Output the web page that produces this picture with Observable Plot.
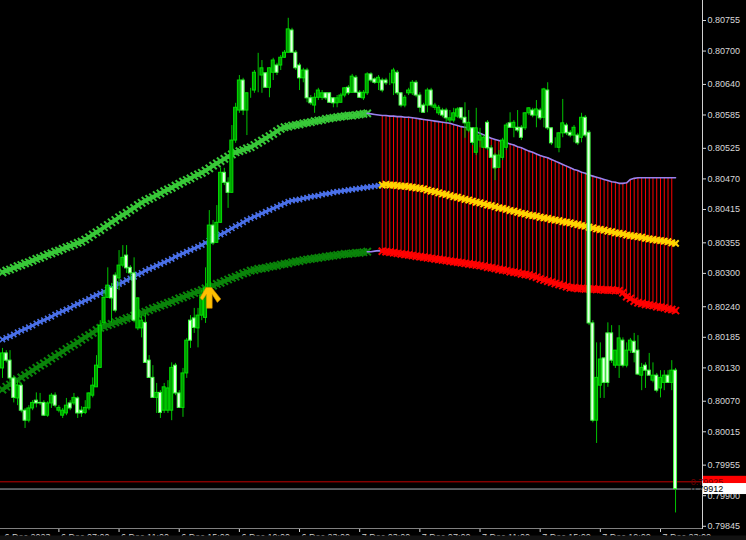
<!DOCTYPE html>
<html><head><meta charset="utf-8">
<script src="https://cdn.jsdelivr.net/npm/d3@7"></script>
<script src="https://cdn.jsdelivr.net/npm/@observablehq/plot@0.6"></script>
<style>
html,body{margin:0;padding:0;background:#000;overflow:hidden}
#chart{width:746px;height:540px}
</style></head><body><div id="chart"></div>
<script>
// Prices in points (x 1e-5)
const open = [80129,80156,80143,80111,80075,80098,80053,80035,80057,80071,80067,80067,80044,80066,80080,80053,80044,80048,80066,80066,80075,80053,80049,80057,80080,80095,80130,80210,80256,80274,80296,80291,80314,80332,80310,80300,80201,80201,80211,80143,80112,80076,80085,80053,80053,80053,80134,80084,80058,80120,80215,80219,80201,80224,80220,80273,80386,80355,80391,80481,80463,80445,80539,80593,80647,80593,80625,80629,80661,80656,80660,80634,80661,80674,80674,80688,80697,80737,80697,80674,80651,80665,80615,80602,80616,80616,80624,80624,80615,80606,80607,80620,80634,80625,80652,80625,80615,80624,80658,80649,80643,80647,80647,80642,80642,80661,80624,80602,80624,80624,80643,80620,80602,80602,80629,80598,80588,80593,80593,80575,80575,80582,80597,80580,80557,80561,80517,80539,80526,80571,80525,80512,80490,80508,80526,80570,80562,80562,80562,80561,80588,80593,80584,80593,80580,80629,80561,80528,80526,80552,80566,80553,80548,80548,80544,80580,80553,80210,80035,80098,80147,80192,80192,80134,80134,80179,80134,80161,80177,80161,80116,80134,80125,80107,80116,80093,80103,80116,80103,80125];
const high = [80165,80161,80161,80116,80107,80102,80057,80062,80071,80085,80084,80071,80069,80084,80085,80062,80057,80075,80071,80084,80078,80060,80071,80085,80112,80152,80215,80269,80310,80282,80301,80341,80350,80350,80314,80328,80256,80224,80228,80152,80134,80102,80089,80102,80107,80139,80138,80089,80129,80183,80224,80237,80237,80269,80310,80413,80395,80422,80490,80489,80472,80566,80606,80656,80651,80625,80633,80665,80696,80683,80661,80670,80687,80678,80692,80701,80759,80741,80701,80678,80669,80669,80620,80624,80633,80629,80625,80625,80616,80620,80624,80634,80638,80658,80656,80629,80629,80661,80661,80652,80656,80651,80651,80660,80669,80665,80625,80620,80633,80647,80647,80625,80606,80633,80633,80606,80602,80597,80597,80593,80597,80598,80598,80607,80593,80562,80597,80561,80548,80575,80530,80516,80521,80543,80570,80589,80575,80593,80566,80589,80598,80597,80611,80597,80633,80643,80562,80544,80553,80613,80570,80557,80566,80552,80588,80584,80557,80215,80175,80175,80148,80211,80206,80161,80206,80184,80175,80183,80192,80188,80138,80139,80156,80139,80120,80125,80125,80125,80143,80129];
const low = [80111,80139,80103,80067,80062,80049,80021,80031,80053,80058,80062,80043,80041,80057,80058,80049,80039,80044,80053,80062,80039,80041,80046,80053,80076,80095,80129,80206,80255,80211,80229,80269,80310,80300,80287,80211,80197,80184,80139,80111,80076,80048,80039,80048,80048,80035,80080,80057,80041,80111,80165,80192,80166,80215,80210,80269,80350,80354,80390,80458,80417,80444,80534,80588,80584,80548,80615,80624,80625,80624,80633,80616,80647,80656,80665,80687,80696,80696,80665,80629,80643,80607,80602,80588,80611,80611,80611,80606,80598,80598,80606,80616,80620,80624,80624,80615,80611,80620,80643,80640,80629,80625,80638,80638,80620,80620,80598,80598,80620,80620,80616,80589,80588,80589,80598,80593,80584,80580,80571,80570,80571,80579,80575,80543,80553,80530,80512,80526,80525,80521,80507,80467,80489,80503,80521,80561,80544,80553,80539,80557,80584,80580,80562,80575,80562,80557,80530,80525,80517,80544,80548,80544,80535,80530,80535,80544,80206,80031,79994,80075,80075,80095,80138,80129,80111,80130,80130,80156,80139,80116,80089,80093,80116,80103,80085,80076,80089,80102,80089,79869];
const close = [80156,80143,80111,80076,80098,80053,80035,80057,80067,80066,80066,80044,80066,80080,80062,80058,80053,80062,80057,80076,80048,80048,80058,80084,80098,80134,80206,80256,80278,80255,80233,80314,80328,80309,80300,80215,80255,80215,80139,80112,80076,80085,80049,80095,80093,80130,80084,80058,80120,80179,80179,80202,80224,80260,80273,80386,80354,80391,80481,80463,80445,80539,80598,80647,80593,80624,80625,80661,80661,80669,80634,80669,80683,80661,80688,80697,80739,80697,80669,80651,80665,80615,80606,80616,80629,80624,80615,80607,80606,80615,80620,80633,80624,80654,80625,80616,80625,80658,80647,80643,80652,80629,80642,80642,80665,80624,80602,80616,80629,80643,80620,80598,80589,80629,80602,80602,80598,80584,80579,80579,80588,80595,80579,80570,80571,80535,80561,80548,80544,80525,80508,80489,80512,80539,80566,80562,80571,80557,80544,80588,80597,80584,80595,80579,80631,80561,80534,80528,80552,80570,80552,80548,80562,80534,80580,80548,80210,80035,80112,80145,80103,80103,80143,80161,80183,80134,80161,80179,80157,80118,80130,80125,80116,80116,80089,80112,80116,80103,80125,79912];
// Indicator bands (points x 1e-5)
const upperBand = [80302,80305,80307,80310,80313,80315,80318,80320,80323,80326,80328,80331,80334,80336,80339,80341,80344,80347,80349,80352,80355,80357,80361,80365,80370,80374,80378,80383,80387,80392,80396,80401,80405,80409,80414,80418,80423,80427,80431,80434,80437,80441,80444,80448,80451,80454,80458,80461,80465,80468,80471,80475,80478,80481,80485,80489,80494,80498,80502,80506,80510,80514,80518,80520,80522,80525,80527,80531,80535,80539,80543,80547,80551,80556,80560,80563,80564,80566,80567,80568,80570,80571,80572,80574,80575,80576,80578,80579,80580,80581,80582,80583,80584,80584,80585,80586,80587,80588,80587,80586,80585,80584,80584,80583,80583,80582,80582,80581,80581,80580,80579,80578,80577,80576,80575,80574,80573,80572,80571,80570,80568,80566,80564,80563,80561,80558,80555,80552,80549,80546,80543,80541,80539,80537,80535,80533,80531,80528,80526,80523,80520,80518,80515,80512,80510,80508,80505,80502,80499,80496,80493,80490,80487,80485,80482,80480,80477,80475,80473,80471,80469,80467,80465,80464,80462,80462,80463,80469,80471,80472,80472,80472,80472,80472,80472,80472,80472,80472,80472,80472];
const midBand = [80181,80184,80187,80190,80194,80197,80200,80203,80206,80210,80213,80216,80219,80222,80226,80229,80232,80235,80238,80242,80245,80248,80251,80254,80258,80261,80264,80267,80271,80274,80277,80281,80284,80288,80291,80294,80298,80301,80305,80308,80311,80314,80317,80320,80323,80326,80330,80333,80336,80339,80342,80345,80348,80351,80355,80359,80362,80366,80370,80373,80377,80381,80385,80388,80392,80396,80399,80402,80405,80408,80411,80414,80417,80420,80423,80426,80429,80431,80432,80433,80435,80436,80438,80439,80440,80442,80443,80444,80446,80447,80448,80449,80450,80451,80452,80453,80454,80455,80456,80457,80458,80459,80460,80459,80459,80458,80457,80457,80456,80455,80454,80453,80452,80450,80448,80447,80445,80443,80442,80440,80438,80437,80435,80433,80432,80430,80428,80427,80425,80423,80422,80420,80418,80417,80415,80413,80412,80410,80408,80407,80405,80404,80403,80401,80400,80399,80397,80396,80395,80393,80392,80391,80389,80388,80386,80385,80383,80382,80380,80379,80378,80376,80375,80373,80372,80371,80369,80368,80367,80366,80365,80363,80362,80361,80360,80359,80358,80357,80355,80354];
const lowerBand = [80091,80096,80100,80104,80108,80113,80117,80121,80125,80130,80134,80138,80142,80147,80151,80155,80159,80164,80168,80172,80176,80181,80185,80189,80193,80198,80202,80204,80207,80209,80212,80214,80216,80219,80221,80224,80226,80229,80231,80234,80237,80239,80242,80244,80247,80249,80252,80255,80257,80260,80262,80265,80267,80270,80273,80275,80278,80281,80283,80286,80289,80292,80294,80297,80300,80302,80305,80306,80308,80309,80310,80312,80313,80314,80316,80317,80318,80320,80321,80322,80324,80325,80326,80327,80328,80329,80330,80331,80332,80333,80334,80335,80335,80336,80337,80337,80338,80339,80339,80340,80341,80340,80339,80338,80337,80336,80335,80334,80333,80332,80331,80330,80329,80328,80327,80326,80325,80324,80323,80322,80321,80320,80319,80318,80317,80316,80315,80314,80313,80311,80310,80309,80307,80306,80305,80303,80302,80301,80299,80298,80297,80295,80293,80290,80288,80286,80284,80282,80280,80278,80276,80274,80274,80273,80273,80272,80272,80272,80271,80271,80270,80270,80270,80269,80269,80265,80258,80255,80250,80247,80246,80244,80243,80242,80240,80239,80238,80236,80235,80233];
const trendChangeBar = 97;   // bands switch colour here
const histStart = 101, histEnd = 178; // red histogram bars
const signalBars = [55];
const signalPrices = [0.80256];
const askPrice = 0.79925;
const bidPrice = 0.79912;
const priceTicks = [0.80755,0.80700,0.80640,0.80585,0.80525,0.80470,0.80415,0.80355,0.80300,0.80240,0.80185,0.80130,0.80070,0.80015,0.79955,0.79900,0.79845];
const timeTickBars = [0,15,31,47,63,79,95,111,127,143,159,175];
const timeLabels = ["6 Dec 2023","6 Dec 07:00","6 Dec 11:00","6 Dec 15:00","6 Dec 19:00","6 Dec 23:00","7 Dec 03:00","7 Dec 07:00","7 Dec 11:00","7 Dec 15:00","7 Dec 19:00","7 Dec 23:00"];

const bars = open.map((o, i) => ({
  i, o: o / 1e5, h: high[i] / 1e5, l: low[i] / 1e5, c: close[i] / 1e5,
  up: upperBand[i] / 1e5, mid: midBand[i] / 1e5, lo: lowerBand[i] / 1e5
}));
const signals = signalBars.map((b, k) => ({i: b, p: signalPrices[k]}));
const before = bars.slice(0, trendChangeBar + 1);
const after = bars.slice(trendChangeBar);
const hist = bars.slice(histStart, histEnd + 1);
const blueSeg = bars.slice(0, histStart + 1);
const yellowSeg = bars.slice(histStart);
const redSeg = bars.slice(histStart, histEnd + 2);

const arrowSymbol = {draw(ctx) {
  const s = 1.15;
  const pts = [[-8,0],[-3,-9],[2,-9],[10,1],[7,4],[2.5,-3],[2.5,9],[-2.5,9],[-2.5,-3],[-6,2]];
  pts.forEach(([a, b], k) => k ? ctx.lineTo(a * s, b * s) : ctx.moveTo(a * s, b * s));
  ctx.closePath();
}};

const band = (data, y, color, w, r, sw) => [
  Plot.line(data, {x: "i", y, stroke: color, strokeWidth: w}),
  Plot.dot(data, {x: "i", y, symbol: "times", r, stroke: color, strokeWidth: sw})
];

const chart = Plot.plot({
  width: 746, height: 540,
  marginLeft: 0, marginRight: 44, marginTop: 0, marginBottom: 12,
  style: {background: "#000", color: "#d8d8d8", fontFamily: "'Liberation Sans', Arial, sans-serif", fontSize: "9px"},
  x: {type: "linear", domain: [-0.532, 186.17], axis: "bottom", ticks: timeTickBars.slice(1), tickFormat: () => "", tickSize: 4, label: null},
  y: {type: "linear", domain: [0.79841, 0.80791], axis: "right", ticks: priceTicks, tickFormat: d => d.toFixed(5), tickSize: 3, tickPadding: 2, label: null},
  marks: [
    Plot.ruleX(hist, {x: "i", y1: "lo", y2: "up", stroke: "#ff0000", strokeWidth: 1}),
    ...band(before, "up", "#38c838", 4, 3.4, 2),
    ...band(before, "lo", "#0a840a", 4, 3.4, 2),
    ...band(blueSeg, "mid", "#4a70e8", 2.5, 2.5, 1.6),
    Plot.line(after, {x: "i", y: "up", stroke: "#9a82ee", strokeWidth: 1.6}),
    Plot.line(after, {x: "i", y: "lo", stroke: "#9a82ee", strokeWidth: 1.6}),
    ...band(yellowSeg, "mid", "#ffd400", 3.5, 3, 2),
    ...band(redSeg, "lo", "#ff0000", 4, 3.3, 2),
    Plot.ruleY([askPrice], {stroke: "#c00000", strokeWidth: 1}),
    Plot.ruleY([bidPrice], {stroke: "#a8b0b8", strokeWidth: 1}),
    Plot.ruleX(bars, {x: "i", y1: "l", y2: "h", stroke: "#00c400", strokeWidth: 1}),
    Plot.rect(bars, {x1: d => d.i - 0.4, x2: d => d.i + 0.4, y1: "o", y2: "c",
      fill: d => d.c > d.o ? "#009c00" : "#e8ffe8",
      stroke: d => d.c > d.o ? "#00e000" : "#40ff40", strokeWidth: 1}),
    Plot.dot(signals, {x: "i", y: "p", symbol: arrowSymbol, r: 8, fill: "#ffc000", stroke: "#d08a00", strokeWidth: 0.6}),
    Plot.text(timeTickBars, {x: d => d, text: (d, k) => timeLabels[k], frameAnchor: "bottom", textAnchor: "start", lineAnchor: "top", dy: 5, dx: 2, fill: "#d0d0d0", fontSize: 9})
  ]
});

document.getElementById("chart").appendChild(chart);

const svg = d3.select(chart);
const xs = chart.scale("x"), ys = chart.scale("y");
const xr = xs.range, yr = ys.range;
const xRight = Math.max(...xr), yBottom = Math.max(...yr), yTop = Math.min(...yr);
// bottom strip
svg.append("rect").attr("x", 0).attr("y", yBottom + 7.5).attr("width", 746).attr("height", 6).attr("fill", "#121212");
// axis lines
svg.append("line").attr("x1", xRight + 0.5).attr("x2", xRight + 0.5).attr("y1", yTop).attr("y2", yBottom + 1).attr("stroke", "#d0d0d0");
svg.append("line").attr("x1", 0).attr("x2", xRight).attr("y1", yBottom + 0.5).attr("y2", yBottom + 0.5).attr("stroke", "#808080");
// price boxes
[[askPrice, "#ff0000", "#700000"], [bidPrice, "#ffffff", "#000000"]].forEach(([p, bg, fg]) => {
  const y = ys.apply(p);
  svg.append("rect").attr("x", xRight + 1).attr("y", y - 5.5).attr("width", 746 - xRight - 1).attr("height", 11).attr("fill", bg);
  svg.append("text").attr("x", xRight + 5).attr("y", y + 3.5).attr("fill", fg)
    .attr("font-family", "'Liberation Sans', Arial, sans-serif").attr("font-size", 9).text(p.toFixed(5));
});
</script></body></html>
